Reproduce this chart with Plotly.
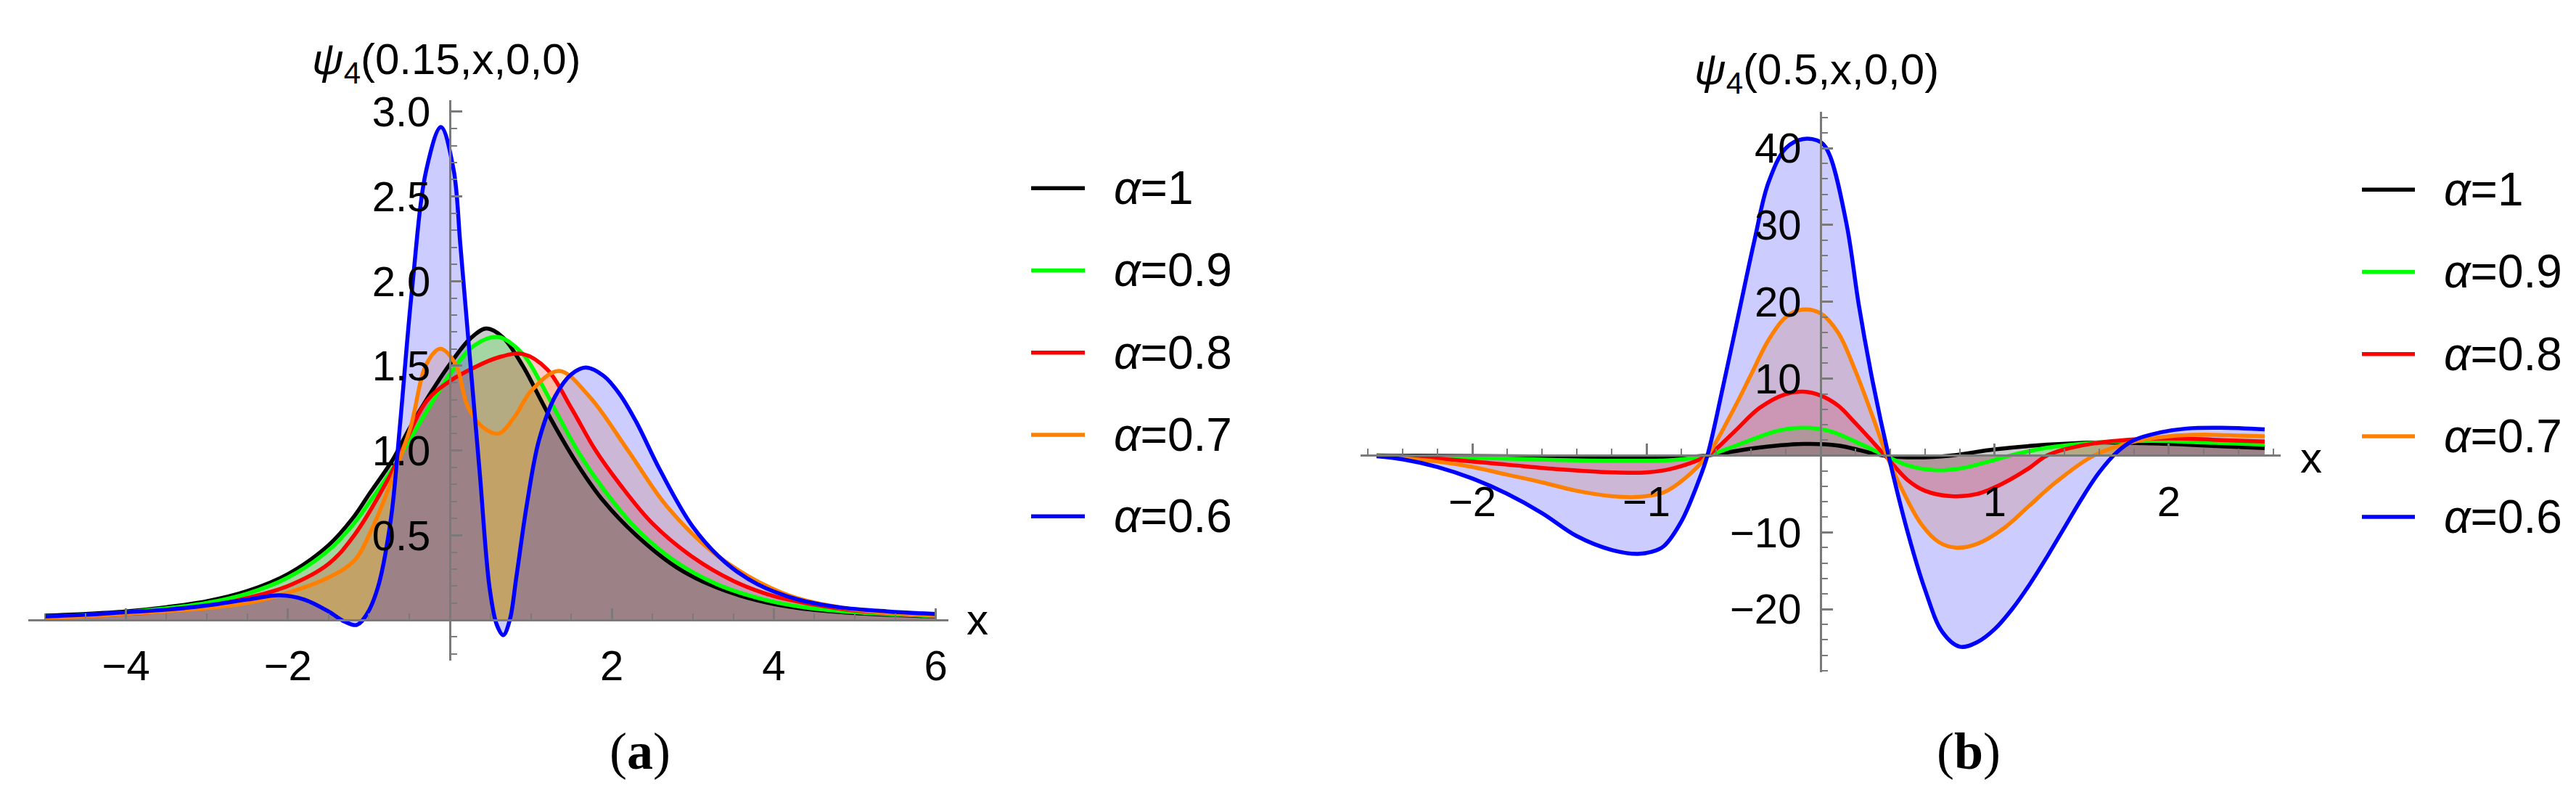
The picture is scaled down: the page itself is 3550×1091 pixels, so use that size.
import plotly.graph_objects as go

# legend labels and colours (alpha = 1, 0.9, 0.8, 0.7, 0.6)
alpha_labels = ["1", "0.9", "0.8", "0.7", "0.6"]
line_colors = ["#000000", "#00ff00", "#ff0000", "#ff8000", "#0000ff"]
fill_colors = ["rgba(0,0,0,0.2)", "rgba(0,255,0,0.2)", "rgba(255,0,0,0.2)",
               "rgba(255,128,0,0.2)", "rgba(0,0,255,0.2)"]

# ---- panel (a): psi_4(0.15, x, 0, 0)
a_x_black = [-5, -4.5, -4, -3.5, -3, -2.5, -2, -1.5, -1.2, -1.0, -0.7, -0.5, -0.25, 0, 0.25, 0.45,
             0.65, 0.9, 1.1, 1.3, 1.6, 1.9, 2.3, 2.8, 3.3, 3.8, 4.3, 5, 6]
a_y_black = [0.025, 0.035, 0.05, 0.075, 0.11, 0.17, 0.27, 0.44, 0.6, 0.74, 0.95, 1.13, 1.33, 1.51, 1.66, 1.72,
             1.67, 1.5, 1.32, 1.14, 0.9, 0.7, 0.5, 0.31, 0.19, 0.115, 0.07, 0.04, 0.02]

a_x_green = [-5, -4, -3, -2.5, -2, -1.5, -1.2, -1, -0.7, -0.5, -0.25, 0, 0.3, 0.6, 0.9, 1.1, 1.3,
             1.6, 1.9, 2.3, 2.8, 3.3, 3.8, 4.3, 5, 6]
a_y_green = [0.02, 0.045, 0.1, 0.155, 0.25, 0.41, 0.56, 0.69, 0.9, 1.06, 1.26, 1.45, 1.62, 1.67, 1.57, 1.42, 1.24,
             0.98, 0.77, 0.54, 0.34, 0.21, 0.13, 0.08, 0.045, 0.022]

a_x_red = [-5, -4, -3, -2.5, -2, -1.5, -1.18, -0.73, -0.29, 0, 0.3, 0.6, 0.9, 1.2, 1.5, 1.8, 2.1,
           2.5, 3.0, 3.5, 4.0, 4.5, 5, 6]
a_y_red = [0.015, 0.035, 0.08, 0.13, 0.2, 0.33, 0.5, 0.86, 1.29, 1.41, 1.49, 1.55, 1.57, 1.48, 1.25, 1.0, 0.8,
           0.57, 0.37, 0.23, 0.14, 0.09, 0.055, 0.025]

a_x_orange = [-5, -4, -3, -2.5, -2, -1.5, -1.18, -0.96, -0.73, -0.49, -0.29, -0.12, 0.07, 0.22, 0.4, 0.6,
              0.8, 1.0, 1.35, 1.72, 2.2, 2.68, 3.3, 4.1, 4.9, 6.0]
a_y_orange = [0.01, 0.035, 0.07, 0.1, 0.16, 0.25, 0.35, 0.54, 0.81, 1.13, 1.51, 1.6, 1.51, 1.26, 1.14, 1.1,
              1.2, 1.35, 1.47, 1.32, 1.0, 0.67, 0.38, 0.16, 0.067, 0.025]

a_x_blue = [-5.0, -4.5, -4.0, -3.5, -3.0, -2.5, -2.1, -1.8, -1.5, -1.3, -1.15, -1.03, -0.89, -0.73, -0.62,
            -0.47, -0.29, -0.11, 0.045, 0.13, 0.25, 0.37, 0.49, 0.58, 0.66, 0.74, 0.82, 0.95, 1.1, 1.3,
            1.5, 1.68, 1.9, 2.1, 2.3, 2.6, 3.0, 3.4, 3.8, 4.3, 4.8, 5.4, 6.0]
a_y_blue = [0.02, 0.03, 0.045, 0.06, 0.085, 0.12, 0.145, 0.12, 0.05, -0.01, -0.03, 0.03, 0.19, 0.59, 1.13,
            1.94, 2.66, 2.91, 2.66, 2.21, 1.53, 0.86, 0.19, -0.03, -0.09, 0.0, 0.25, 0.68, 1.06, 1.32,
            1.45, 1.49, 1.44, 1.33, 1.17, 0.88, 0.55, 0.34, 0.21, 0.12, 0.075, 0.05, 0.035]

# ---- panel (b): psi_4(0.5, x, 0, 0)
b_x_black = [-2.55, -1.5, -1.0, -0.65, -0.4, -0.1, 0.1, 0.36, 0.55, 0.75, 1.0, 1.3, 1.6, 2.0, 2.3, 2.55]
b_y_black = [0.0, -0.15, -0.3, 0.0, 0.9, 1.5, 1.3, 0.0, -0.25, 0.0, 0.8, 1.4, 1.7, 1.5, 1.2, 0.95]

b_x_green = [-2.55, -2.0, -1.5, -1.1, -0.85, -0.65, -0.45, -0.25, -0.1, 0.05, 0.2, 0.37, 0.5, 0.65, 0.8,
             0.95, 1.09, 1.3, 1.6, 1.9, 2.2, 2.55]
b_y_green = [0.0, -0.3, -0.6, -0.7, -0.6, 0.0, 1.6, 3.2, 3.6, 3.2, 1.8, 0.0, -1.3, -1.9, -1.7,
             -0.9, 0.0, 1.0, 1.7, 1.9, 1.7, 1.4]

b_x_red = [-2.55, -2.2, -1.8, -1.5, -1.2, -1.0, -0.85, -0.65, -0.5, -0.35, -0.2, -0.1, 0.0, 0.1, 0.2, 0.37,
           0.5, 0.6, 0.75, 0.9, 1.05, 1.2, 1.3, 1.5, 1.8, 2.1, 2.3, 2.55]
b_y_red = [0.0, -0.4, -1.2, -1.8, -2.2, -2.2, -1.7, 0.0, 3.0, 6.2, 8.0, 8.3, 7.8, 6.5, 4.2, 0.0,
           -3.2, -4.6, -5.3, -5.0, -3.6, -1.6, 0.0, 1.3, 2.1, 2.2, 2.0, 1.8]

b_x_orange = [-2.55, -2.2, -2.0, -1.8, -1.6, -1.4, -1.2, -1.05, -0.9, -0.78, -0.65, -0.5, -0.4, -0.3, -0.2,
              -0.1, 0.0, 0.1, 0.2, 0.3, 0.38, 0.48, 0.58, 0.68, 0.78, 0.9, 1.05, 1.2, 1.35, 1.57, 1.8,
              2.0, 2.2, 2.4, 2.55]
b_y_orange = [-0.05, -0.8, -1.5, -2.5, -3.5, -4.6, -5.3, -5.4, -4.8, -3.0, 0.0, 6.0, 10.5, 15.0, 18.0,
              19.0, 18.5, 16.0, 11.0, 5.0, 0.0, -5.0, -9.0, -11.3, -12.0, -11.5, -9.5, -6.5, -3.5, 0.0, 1.8,
              2.5, 2.7, 2.6, 2.5]

b_x_blue = [-2.55, -2.4, -2.2, -2.0, -1.8, -1.6, -1.4, -1.2, -1.05, -0.95, -0.9, -0.8, -0.7, -0.65, -0.56,
            -0.47, -0.38, -0.3, -0.2, -0.1, 0.0, 0.05, 0.15, 0.22, 0.3, 0.39, 0.5, 0.6, 0.7, 0.8, 0.9,
            1.0, 1.1, 1.2, 1.3, 1.4, 1.5, 1.6, 1.7, 1.8, 1.95, 2.1, 2.3, 2.55]
b_y_blue = [-0.1, -0.5, -1.5, -3.0, -5.0, -7.5, -10.5, -12.3, -12.8, -12.4, -11.8, -8.6, -3.3, 0.0, 9.0,
            18.5, 28.0, 35.5, 40.0, 41.2, 40.8, 39.2, 30.0, 19.5, 9.5, 0.0, -10.0, -17.5, -23.0, -24.9, -24.3,
            -22.6, -20.0, -16.8, -13.2, -9.4, -5.6, -2.2, 0.4, 2.0, 3.0, 3.5, 3.6, 3.4]

# tick labels
a_xticks = [-4, -2, 2, 4, 6]
a_xtext = ["\u22124", "\u22122", "2", "4", "6"]
a_yticks = [0.5, 1.0, 1.5, 2.0, 2.5, 3.0]
a_ytext = ["0.5", "1.0", "1.5", "2.0", "2.5", "3.0"]
b_xticks = [-2, -1, 1, 2]
b_xtext = ["\u22122", "\u22121", "1", "2"]
b_yticks = [-20, -10, 10, 20, 30, 40]
b_ytext = ["\u221220", "\u221210", "10", "20", "30", "40"]

panel_a = [(a_x_black, a_y_black), (a_x_green, a_y_green), (a_x_red, a_y_red),
           (a_x_orange, a_y_orange), (a_x_blue, a_y_blue)]
panel_b = [(b_x_black, b_y_black), (b_x_green, b_y_green), (b_x_red, b_y_red),
           (b_x_orange, b_y_orange), (b_x_blue, b_y_blue)]

W, H = 3550, 1091
LW = 5.5
fig = go.Figure()

for xa, ya, series in [("x", "y", panel_a), ("x2", "y2", panel_b)]:
    # fills first, then the curves on top
    for (xs, ys), fc in zip(series, fill_colors):
        fig.add_trace(go.Scatter(x=xs, y=ys, mode="lines", fill="tozeroy", fillcolor=fc,
                                 line=dict(width=0, shape="spline", smoothing=1.0),
                                 xaxis=xa, yaxis=ya, hoverinfo="skip"))
    for (xs, ys), lc, lab in zip(series, line_colors, alpha_labels):
        fig.add_trace(go.Scatter(x=xs, y=ys, mode="lines", name="\u03b1=" + lab,
                                 line=dict(color=lc, width=LW, shape="spline", smoothing=1.0),
                                 xaxis=xa, yaxis=ya))

axis_gray = "#7a7a7a"
tick_font = dict(family="Liberation Sans", size=58, color="black")


def axis(domain, rng, pos, vals, text, minor_step, standoff):
    return dict(domain=domain, range=rng, anchor="free", position=pos,
                showgrid=False, zeroline=False, showline=True, linecolor=axis_gray, linewidth=3,
                ticks="inside", ticklen=15, tickwidth=2.5, tickcolor=axis_gray,
                tickmode="array", tickvals=vals, ticktext=text, tickfont=tick_font,
                ticklabelstandoff=standoff,
                minor=dict(tickmode="linear", tick0=0, dtick=minor_step, ticks="inside",
                           ticklen=8, tickwidth=2, tickcolor=axis_gray, showgrid=False))


fig.update_layout(
    width=W, height=H, margin=dict(l=0, r=0, t=0, b=0),
    paper_bgcolor="white", plot_bgcolor="rgba(0,0,0,0)", showlegend=False,
    xaxis=axis([31 / W, 1299 / W], [-5.206, 6.156], 1 - 842 / H, a_xticks, a_xtext, 0.5, 12),
    yaxis=axis([1 - 899 / H, 1 - 115 / H], [-0.2405, 3.0675], 612 / W, a_yticks, a_ytext, 0.1, 14),
    xaxis2=axis([1867 / W, 3135 / W], [-2.642, 2.642], 1 - 612 / H, b_xticks, b_xtext, 0.2, 12),
    yaxis2=axis([1 - 915 / H, 1 - 131 / H], [-28.19, 44.74], 2501 / W, b_yticks, b_ytext, 2, 14),
)

text_font = dict(family="Liberation Sans", size=60, color="black")
ann = []
# plot labels above the vertical axes
ann.append(dict(text="<i>\u03c8</i><sub>4</sub>(0.15,x,0,0)", x=607 / W, y=1 - 62 / H))
ann.append(dict(text="<i>\u03c8</i><sub>4</sub>(0.5,x,0,0)", x=2495 / W, y=1 - 76 / H))
# horizontal axis labels
ann.append(dict(text="x", x=1339 / W, y=1 - 842 / H))
ann.append(dict(text="x", x=3177 / W, y=1 - 615 / H))
for a in ann:
    a.update(xref="paper", yref="paper", xanchor="center", yanchor="middle",
             showarrow=False, font=text_font)

# legends drawn next to each panel
shapes = []
legend_pos = [(1413, 1487, 1525, [238, 353, 468, 583, 697]),
              (3247, 3320, 3358, [240, 355, 470, 585, 698])]
for x0, x1, xt, rows in legend_pos:
    for lab, lc, ry in zip(alpha_labels, line_colors, rows):
        shapes.append(dict(type="line", xref="paper", yref="paper", x0=x0 / W, x1=x1 / W,
                           y0=1 - ry / H, y1=1 - ry / H, line=dict(color=lc, width=LW)))
        ann.append(dict(text="<i>\u03b1</i>=" + lab, xref="paper", yref="paper", x=xt / W,
                        y=1 - ry / H, xanchor="left", yanchor="middle", showarrow=False,
                        font=dict(family="Liberation Sans", size=64, color="black")))

# panel captions
for cap, cx in [("a", 874), ("b", 2705)]:
    ann.append(dict(text="(<b>" + cap + "</b>)", xref="paper", yref="paper", x=cx / W,
                    y=1 - 1026 / H, xanchor="center", yanchor="middle", showarrow=False,
                    font=dict(family="Liberation Serif", size=72, color="black")))

fig.update_layout(annotations=ann, shapes=shapes)
fig.write_html("out.html")
